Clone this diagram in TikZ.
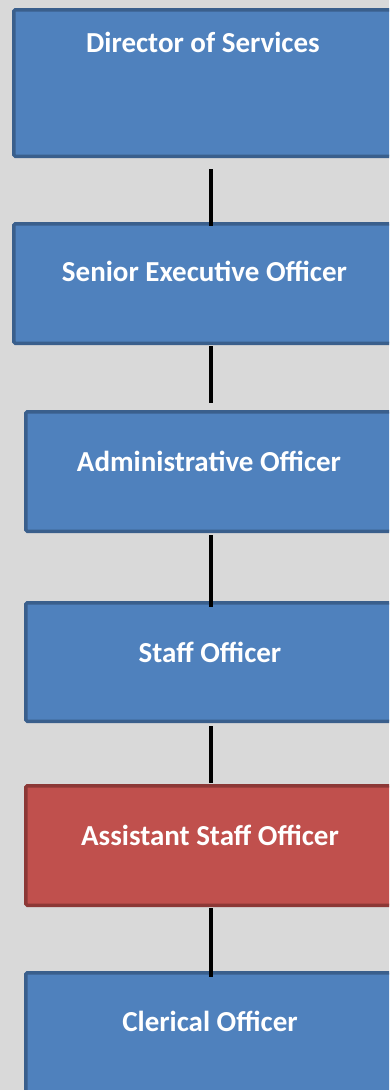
\documentclass[tikz,border=0pt]{standalone}
\usepackage{fontspec}
\setmainfont{Carlito}
\definecolor{bgc}{HTML}{D9D9D9}
\definecolor{bfill}{HTML}{4F81BD}
\definecolor{bline}{HTML}{3A5F8C}
\definecolor{rfill}{HTML}{C0504D}
\definecolor{rline}{HTML}{8C3836}
\begin{document}
\begin{tikzpicture}[x=1pt,y=-1pt,
  bluebox/.style={draw=bline, fill=bfill, line width=3.5pt, rounded corners=1.5pt, anchor=north west, inner sep=0pt, minimum width=390pt},
  redbox/.style={bluebox, draw=rline, fill=rfill},
  lbl/.style={text=white, font=\bfseries\fontsize{29}{34}\selectfont, inner sep=0pt},
  conn/.style={draw=black, line width=4.5pt}]
\useasboundingbox (0,0) rectangle (389,1090);
\clip (0,0) rectangle (389,1090);
\fill[bgc] (0,0) rectangle (389,1090);
\coordinate (axis) at (211,0);
\node[bluebox, minimum height=146.5pt] (b1) at (12,8) {};
\node[bluebox, minimum height=119.5pt] (b2) at (12,222) {};
\node[bluebox, minimum height=119.5pt] (b3) at (24,410) {};
\node[bluebox, minimum height=118.5pt] (b4) at (24,601) {};
\node[redbox, minimum height=119.5pt] (b5) at (24,784) {};
\node[bluebox, minimum height=130pt] (b6) at (24,971) {};
\node[lbl] (t1) at (203,42) {Director of Services};
\node[lbl] (t2) at (204.5,271) {Senior Executive Officer};
\node[lbl] (t3) at (209,461) {Administrative Officer};
\node[lbl] (t4) at (210,652) {Staff Officer};
\node[lbl] (t5) at (210,835) {Assistant Staff Officer};
\node[lbl] (t6) at (210,1021) {Clerical Officer};
\draw[conn, shorten <=11pt, shorten >=-4pt] (b1.south -| axis) -- (b2.north -| axis);
\draw[conn, shorten <=1pt, shorten >=7pt] (b2.south -| axis) -- (b3.north -| axis);
\draw[conn, shorten <=2pt, shorten >=-6pt] (b3.south -| axis) -- (b4.north -| axis);
\draw[conn, shorten <=3pt, shorten >=1pt] (b4.south -| axis) -- (b5.north -| axis);
\draw[conn, shorten <=1pt, shorten >=-6pt] (b5.south -| axis) -- (b6.north -| axis);
\end{tikzpicture}
\end{document}
